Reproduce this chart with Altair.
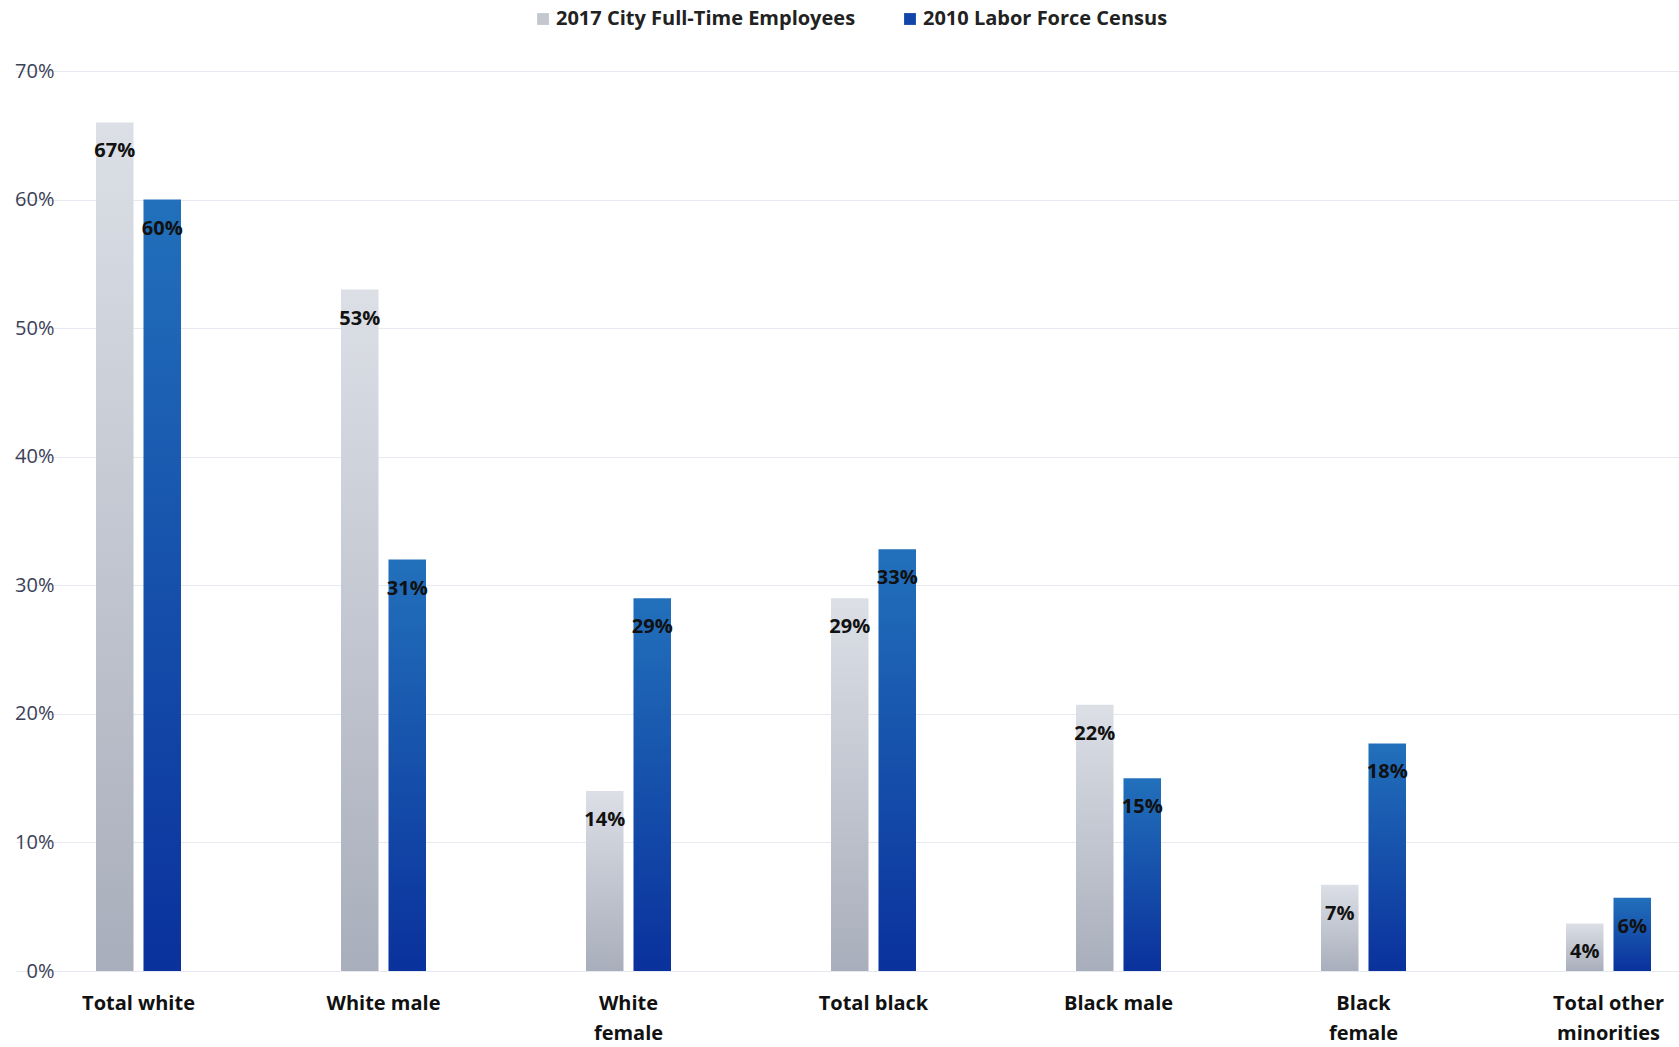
import altair as alt
import pandas as pd

categories = ["Total white", "White male", "White\nfemale", "Total black",
              "Black male", "Black\nfemale", "Total other\nminorities"]
series = ["2017 City Full-Time Employees", "2010 Labor Force Census"]
city_2017 = [66, 53, 14, 29, 20.7, 6.7, 3.7]
census_2010 = [60, 32, 29, 32.8, 15, 17.7, 5.7]
labels_2017 = ["67%", "53%", "14%", "29%", "22%", "7%", "4%"]
labels_2010 = ["60%", "31%", "29%", "33%", "15%", "18%", "6%"]

rows = []
for c, v, l in zip(categories, city_2017, labels_2017):
    rows.append({"cat": c, "series": series[0], "v": v, "label": l})
for c, v, l in zip(categories, census_2010, labels_2010):
    rows.append({"cat": c, "series": series[1], "v": v, "label": l})
df = pd.DataFrame(rows)

FONT = "Open Sans"

gray_grad = alt.LinearGradient(
    gradient="linear", x1=0, y1=0, x2=0, y2=1,
    stops=[alt.GradientStop(color="#dcdfe6", offset=0),
           alt.GradientStop(color="#a8aebb", offset=1)])
blue_grad = alt.LinearGradient(
    gradient="linear", x1=0, y1=0, x2=0, y2=1,
    stops=[alt.GradientStop(color="#2270bb", offset=0),
           alt.GradientStop(color="#0a319c", offset=1)])

x_enc = alt.X("cat:N", sort=categories,
              scale=alt.Scale(range=[-64, 1651], paddingInner=0, paddingOuter=0),
              axis=alt.Axis(title=None, domain=False, ticks=False, grid=False, labelAngle=0,
                            labelFontSize=20, labelFontWeight="bold", labelColor="#111",
                            labelFont=FONT, labelPadding=22, labelBaseline="top",
                            labelLineHeight=30,
                            labelExpr="split(datum.label, '\\n')"))
xo_enc = alt.XOffset("series:N", sort=series,
                     scale=alt.Scale(range=[80, 165], paddingInner=0.21, paddingOuter=0))
y_enc = alt.Y("v:Q", scale=alt.Scale(domain=[0, 70], nice=False),
              axis=alt.Axis(title=None, values=[0, 10, 20, 30, 40, 50, 60, 70],
                            labelExpr="datum.value + '%'", domain=False, ticks=False,
                            gridColor="#e6e9f0", gridWidth=1, labelFontSize=20,
                            labelColor="#3b4157", labelFont=FONT, labelPadding=26))

base = alt.Chart(df).encode(x=x_enc, xOffset=xo_enc, y=y_enc)

gray_bars = base.transform_filter(alt.datum.series == series[0]).mark_bar(fill=gray_grad)
blue_bars = base.transform_filter(alt.datum.series == series[1]).mark_bar(fill=blue_grad)
texts = base.mark_text(baseline="middle", align="center", dy=29, fontSize=20,
                       fontWeight="bold", font=FONT, color="#111").encode(text="label:N")

legend_layer = base.transform_filter("false").mark_square().encode(
    color=alt.Color("series:N", scale=alt.Scale(domain=series, range=["#c3c7d0", "#1146a8"]),
                    legend=alt.Legend(orient="none", legendX=453, legendY=-62,
                                      direction="horizontal", title=None,
                                      symbolType="square", symbolSize=140,
                                      symbolStrokeWidth=0, symbolOpacity=1,
                                      labelFontSize=20, labelFontWeight="bold",
                                      labelFont=FONT, labelColor="#222", labelLimit=0,
                                      columnPadding=44, labelOffset=3))
)

chart = alt.layer(gray_bars, blue_bars, texts, legend_layer).properties(
    width=1588, height=900,
    autosize=alt.AutoSizeParams(type="none"),
    padding={"left": 80, "top": 71, "right": 11, "bottom": 76},
).configure(background="white", view=alt.ViewConfig(stroke=None))

chart.save("out.html", embed_options={"renderer": "svg", "actions": False})
